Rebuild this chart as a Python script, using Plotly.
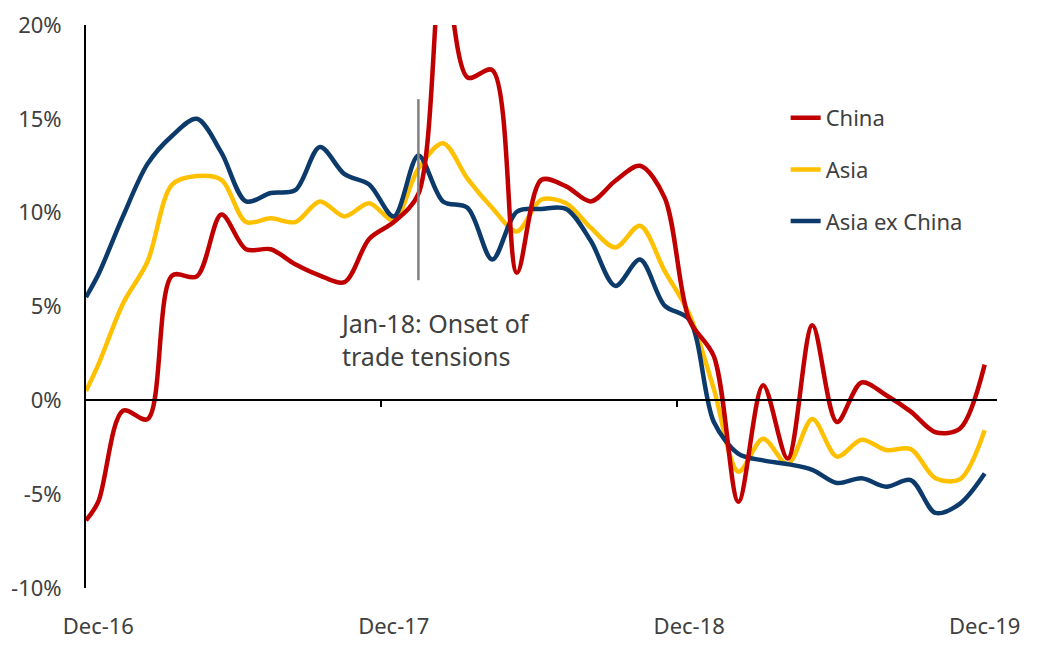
import plotly.graph_objects as go

# Month positions: Dec-16 = 0 ... Dec-19 = 36 (first value sits half a month before Dec-16)
month_pos = [-0.5] + list(range(37))

tick_pos = [0, 12, 24, 36]
tick_text = ["Dec-16", "Dec-17", "Dec-18", "Dec-19"]
year_breaks = [11.5, 23.5]

china = [-6.4, -5.4, -0.55, -1.0, 6.65, 6.6, 9.9, 8.05, 8.05, 7.25, 6.65, 6.3, 8.6, 9.5,
         11.0, 23.5, 17.2, 17.6, 6.8, 11.75, 11.4, 10.6, 11.7, 12.5, 10.8, 4.3, 2.35,
         -5.4, 0.8, -3.1, 4.0, -1.15, 0.95, 0.27, -0.6, -1.7, -1.5, 1.9]
asia = [0.5, 1.9, 5.15, 7.4, 11.5, 11.95, 11.75, 9.5, 9.7, 9.5, 10.6, 9.8, 10.5, 9.6,
        12.35, 13.7, 11.8, 10.25, 9.0, 10.7, 10.5, 9.2, 8.15, 9.3, 6.9, 4.6, 0.6,
        -3.8, -2.05, -3.4, -1.0, -3.0, -2.1, -2.65, -2.6, -4.15, -4.2, -1.6]
asia_ex_china = [5.5, 6.7, 9.8, 12.6, 14.1, 15.0, 13.2, 10.6, 11.05, 11.2, 13.5, 12.05, 11.5, 9.8,
                 13.05, 10.6, 10.25, 7.5, 10.05, 10.2, 10.2, 8.5, 6.1, 7.5, 5.05, 4.3, -1.15,
                 -2.85, -3.2, -3.4, -3.7, -4.4, -4.15, -4.6, -4.25, -6.0, -5.5, -3.9]

y_ticks = [-10, -5, 0, 5, 10, 15, 20]
y_tick_text = ["-10%", "-5%", "0%", "5%", "10%", "15%", "20%"]

event_x = 13           # Jan-18
event_y = [6.4, 16.05]
event_text = "Jan-18: Onset of<br>trade tensions"
event_label_x = 9.75
event_label_y = 3.26

FONT = "Noto Sans"
TXT = "#404040"
RED = "#C00000"
YEL = "#FFC000"
NAVY = "#0B3A6B"

fig = go.Figure()
fig.add_trace(go.Scatter(x=month_pos, y=china, name="China", mode="lines", xaxis="x2",
                         legendgroup="a", legendrank=1,
                         line=dict(color=RED, width=4.5, shape="spline", smoothing=0.9)))
fig.add_trace(go.Scatter(x=month_pos, y=asia, name="Asia", mode="lines",
                         legendgroup="b", legendrank=2,
                         line=dict(color=YEL, width=4.5, shape="spline", smoothing=0.9)))
fig.add_trace(go.Scatter(x=month_pos, y=asia_ex_china, name="Asia ex China", mode="lines",
                         legendgroup="c", legendrank=3,
                         line=dict(color=NAVY, width=4.5, shape="spline", smoothing=0.9)))

fig.add_shape(type="line", xref="x", yref="y", x0=event_x, x1=event_x,
              y0=event_y[0], y1=event_y[1], line=dict(color="#808080", width=2.5))
fig.add_annotation(x=event_label_x, y=event_label_y, text=event_text, showarrow=False,
                   xanchor="left", yanchor="middle", align="left",
                   font=dict(family=FONT, size=25, color=TXT))

fig.update_layout(
    width=1033, height=645,
    margin=dict(l=78, r=44, t=17, b=65),
    paper_bgcolor="white", plot_bgcolor="white",
    font=dict(family=FONT, size=22, color=TXT),
    showlegend=True,
    legend=dict(x=0.768, y=0.872, xanchor="left", yanchor="top",
                font=dict(family=FONT, size=22, color=TXT),
                traceorder="grouped", tracegroupgap=20,
                bgcolor="rgba(0,0,0,0)"),
    xaxis=dict(range=[-0.5, 36.5], tickvals=tick_pos, ticktext=tick_text, automargin=False,
               showline=False, showgrid=False, zeroline=False, ticks="",
               ticklabeloverflow="allow",
               ticklabelstandoff=23, tickfont=dict(family=FONT, size=22, color=TXT)),
    xaxis2=dict(overlaying="x", anchor="free", position=1/3, range=[-0.5, 36.5],
                automargin=False,
                showline=True, linecolor="black", linewidth=1.8,
                ticks="outside", ticklen=6, tickwidth=1.5, tickcolor="black",
                tickvals=year_breaks, showticklabels=False,
                showgrid=False, zeroline=False),
    yaxis=dict(range=[-10, 20], tickvals=y_ticks, ticktext=y_tick_text, automargin=False,
               showline=True, linecolor="black", linewidth=2,
               showgrid=False, zeroline=False, ticks="",
               ticklabeloverflow="allow",
               ticklabelstandoff=18, tickfont=dict(family=FONT, size=22, color=TXT)),
)

fig.write_html("out.html")
